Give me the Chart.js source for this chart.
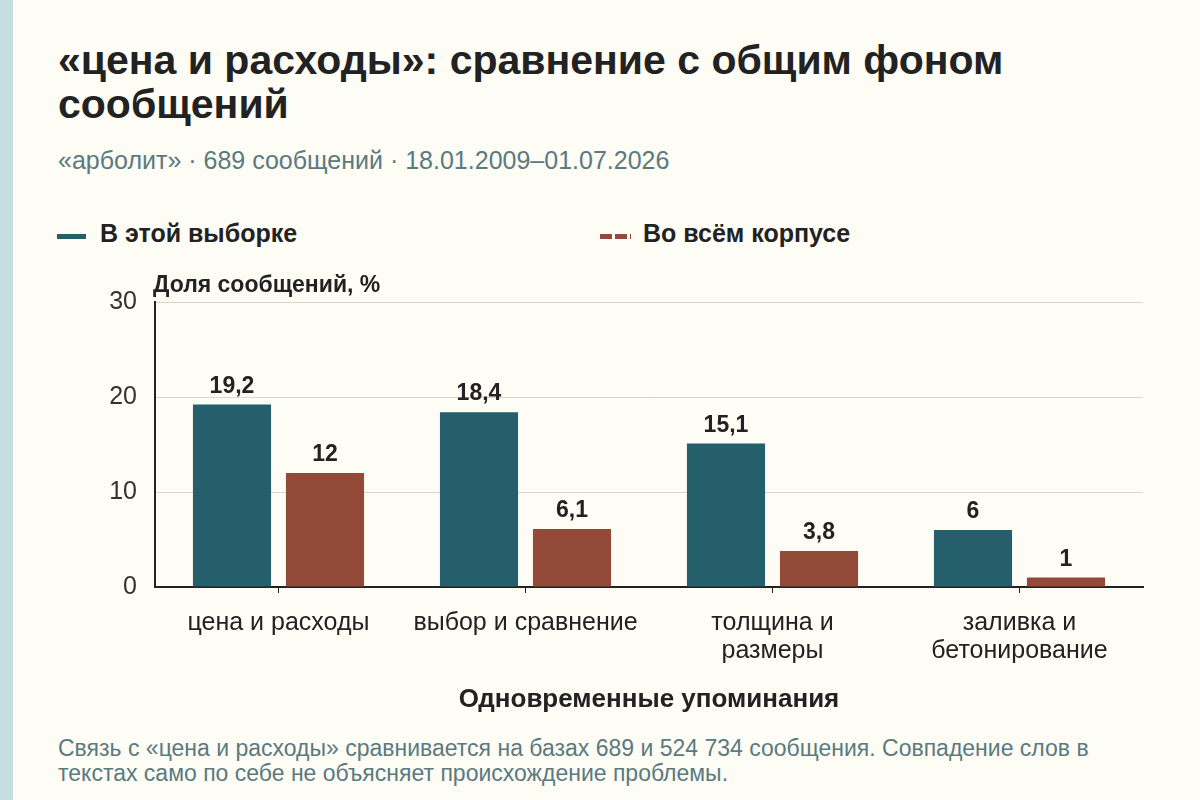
<!DOCTYPE html>
<html lang="ru">
<head>
<meta charset="utf-8">
<title>«цена и расходы»: сравнение с общим фоном сообщений</title>
<script src="https://cdn.jsdelivr.net/npm/chart.js@4/dist/chart.umd.min.js"></script>
<style>
  html, body {
    margin: 0;
    padding: 0;
    width: 1200px;
    height: 800px;
    overflow: hidden;
    background: #fdfcf5;
    font-family: "Liberation Sans", Arial, sans-serif;
    color: #222;
  }
  .stripe {
    position: absolute;
    left: 0; top: 0;
    width: 13px; height: 800px;
    background: #c5dfe1;
  }
  h1 {
    position: absolute;
    left: 58px; top: 38px;
    margin: 0;
    font-size: 41px;
    line-height: 44px;
    font-weight: bold;
    color: #222;
    white-space: nowrap;
  }
  .subtitle {
    position: absolute;
    left: 58px; top: 145px;
    font-size: 25px;
    line-height: 30px;
    color: #5b7a7f;
    white-space: nowrap;
  }
  .legend-item {
    position: absolute;
    top: 219px;
    font-size: 25px;
    font-weight: bold;
    line-height: 28px;
    white-space: nowrap;
  }
  .swatch {
    position: absolute;
    top: 15px;
    height: 5px;
  }
  .chart-box {
    position: absolute;
    left: 100px; top: 268px;
    width: 1060px; height: 447px;
  }
  .note {
    position: absolute;
    left: 58px; top: 736px;
    width: 1120px;
    font-size: 23px;
    line-height: 25px;
    color: #5b7a7f;
    white-space: nowrap;
  }
</style>
</head>
<body>
<div class="stripe"></div>
<h1>«цена и расходы»: сравнение с общим фоном<br>сообщений</h1>
<div class="subtitle">«арболит» · 689 сообщений · 18.01.2009–01.07.2026</div>

<div class="legend-item" style="left:100px;">
  <span class="swatch" style="left:-43px;width:29px;background:#245f6b;"></span>
  В этой выборке
</div>
<div class="legend-item" style="left:643px;">
  <span class="swatch" style="left:-43px;width:31px;background:repeating-linear-gradient(90deg,#934a39 0 12px,transparent 12px 15px);"></span>
  Во всём корпусе
</div>

<div class="chart-box"><canvas id="chart"></canvas></div>

<div class="note">Связь с «цена и расходы» сравнивается на базах 689 и 524 734 сообщения. Совпадение слов в<br>текстах само по себе не объясняет происхождение проблемы.</div>

<script>
const categories = [
  'цена и расходы',
  'выбор и сравнение',
  ['толщина и', 'размеры'],
  ['заливка и', 'бетонирование']
];
const sampleShare = [19.2, 18.4, 15.1, 6];
const corpusShare = [12, 6.1, 3.8, 1];
const yTicks = [0, 10, 20, 30];

const FONT = '"Liberation Sans", Arial, sans-serif';
const formatValue = (v) => String(v).replace('.', ',');

// value labels above bars and the y-axis caption
const barLabels = {
  id: 'barLabels',
  afterDatasetsDraw(chart) {
    const ctx = chart.ctx;
    ctx.save();
    ctx.font = 'bold 23px ' + FONT;
    ctx.fillStyle = '#222';
    ctx.textAlign = 'center';
    ctx.textBaseline = 'alphabetic';
    chart.data.datasets.forEach((ds, i) => {
      chart.getDatasetMeta(i).data.forEach((bar, j) => {
        ctx.fillText(formatValue(ds.data[j]), bar.x, bar.y - 12);
      });
    });
    ctx.textAlign = 'left';
    ctx.fillText('Доля сообщений, %', chart.chartArea.left - 2, chart.chartArea.top - 10);
    ctx.restore();
  }
};

new Chart(document.getElementById('chart'), {
  type: 'bar',
  data: {
    labels: categories,
    datasets: [
      {
        label: 'В этой выборке',
        data: sampleShare,
        backgroundColor: '#245f6b'
      },
      {
        label: 'Во всём корпусе',
        data: corpusShare,
        backgroundColor: '#934a39'
      }
    ]
  },
  options: {
    responsive: true,
    maintainAspectRatio: false,
    animation: false,
    layout: { padding: { top: 34, right: 17, left: 0, bottom: 0 } },
    datasets: {
      bar: { categoryPercentage: 0.753, barPercentage: 0.84 }
    },
    plugins: {
      legend: { display: false },
      tooltip: { enabled: false }
    },
    scales: {
      x: {
        afterFit: (scale) => { scale.height = 128; },
        grid: {
          offset: false,
          drawOnChartArea: false,
          drawTicks: true,
          tickLength: 6,
          color: '#222',
          lineWidth: 1
        },
        border: { color: '#222', width: 2 },
        ticks: {
          color: '#222',
          padding: 16,
          maxRotation: 0,
          autoSkip: false,
          font: { size: 25, family: FONT, lineHeight: 1.12 }
        },
        title: {
          display: true,
          text: 'Одновременные упоминания',
          color: '#222',
          padding: { top: 0, bottom: 0 },
          font: { size: 26, weight: 'bold', family: FONT, lineHeight: 1.2 }
        }
      },
      y: {
        min: 0,
        max: 30,
        afterBuildTicks: (scale) => {
          scale.ticks = yTicks.map(v => ({ value: v }));
        },
        afterFit: (scale) => { scale.width = 55; },
        grid: {
          color: '#d6d6d2',
          lineWidth: 1,
          drawTicks: false
        },
        border: { color: '#222', width: 2 },
        ticks: {
          color: '#333',
          padding: 18,
          font: { size: 25, family: FONT }
        }
      }
    }
  },
  plugins: [barLabels]
});
</script>
</body>
</html>
